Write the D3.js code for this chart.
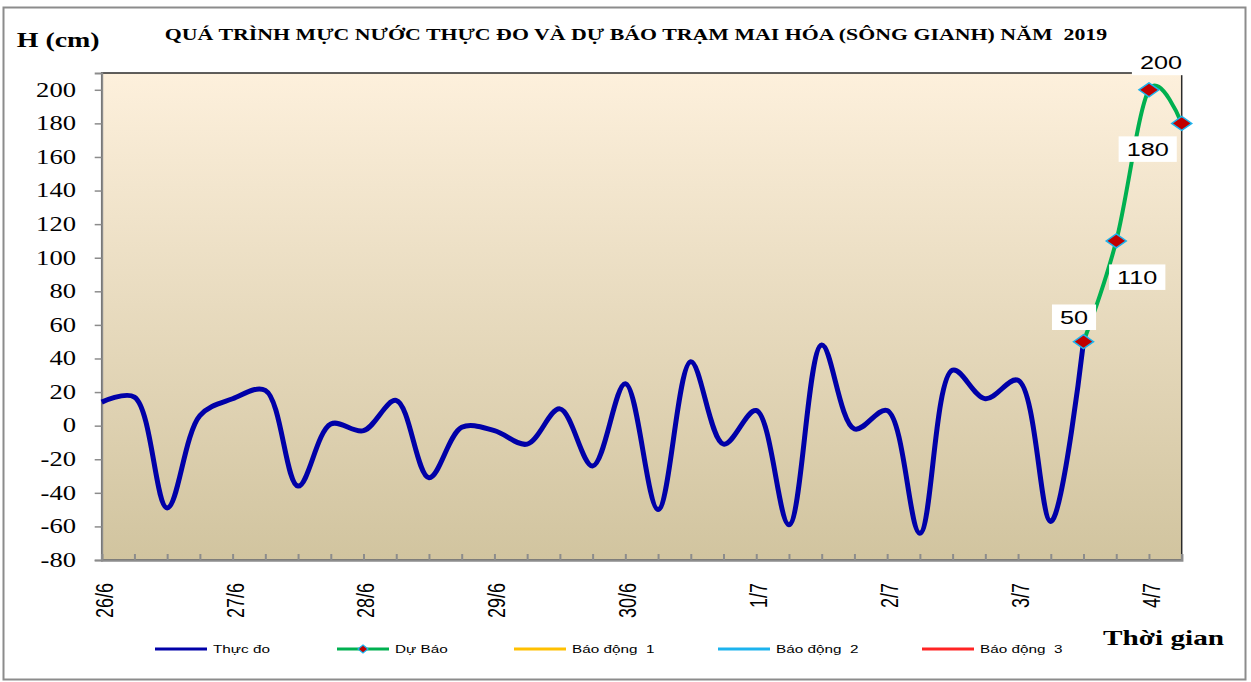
<!DOCTYPE html>
<html>
<head>
<meta charset="utf-8">
<script src="https://cdn.jsdelivr.net/npm/d3@7"></script>
<style>
  body { margin: 0; background: #fff; }
  text { white-space: pre; }
</style>
</head>
<body>
<div id="canvas"></div>
<script>
"use strict"

/* Data: one reading every 6 hours, 26/6 00h .. 4/7 06h */
let dayLabels = ["26/6", "27/6", "28/6", "29/6", "30/6", "1/7", "2/7", "3/7", "4/7"];
let stepsPerDay = 4;
let observed = [14, 17, -49, 6, 16, 21, -36, 1, -3, 15, -31, -1, -3, -11, 10, -24,
                25, -50, 38, -11, 9, -59, 48, -2, 9, -64, 33, 16, 27, -57, 50];
let forecast = [50, 110, 200, 180];
let forecastStart = 30;
let yTicks = [-80, -60, -40, -20, 0, 20, 40, 60, 80, 100, 120, 140, 160, 180, 200];
let legendNames = ["Thực đo", "Dự Báo", "Báo động  1", "Báo động  2", "Báo động  3"];
let legendColors = ["#0000A8", "#00B050", "#FFC000", "#1CB3EE", "#FF2424"];

/* Fonts (the picture is stretched sideways, so text is too) */
let serif = "'Liberation Serif', 'Times New Roman', serif";
let sans = "'Liberation Sans', Arial, sans-serif";
let SX = 1.33;

let drawing = d3.select("#canvas")
    .append("svg")
    .attr("width", 1251)
    .attr("height", 682);

/* Outer chart border */
drawing.append("rect")
    .attr("x", 3.5).attr("y", 7.5)
    .attr("width", 1242).attr("height", 672)
    .attr("fill", "#fff")
    .attr("stroke", "#8c8c8c")
    .attr("stroke-width", 2);

/* Scales */
let nPoints = forecastStart + forecast.length;
let x = d3.scaleLinear().domain([0, nPoints - 1]).range([101.7, 1181.7]);
let y = d3.scaleLinear().domain([-80, 210]).range([560, 73]);

/* Plot background gradient */
let defs = drawing.append("defs");
let grad = defs.append("linearGradient")
    .attr("id", "plotbg")
    .attr("x1", 0).attr("y1", 0).attr("x2", 0).attr("y2", 1);
grad.append("stop").attr("offset", "0%").attr("stop-color", "#FDF0DC");
grad.append("stop").attr("offset", "100%").attr("stop-color", "#D1C49F");

drawing.append("rect")
    .attr("x", x(0)).attr("y", y(210))
    .attr("width", x(nPoints - 1) - x(0))
    .attr("height", y(-80) - y(210))
    .attr("fill", "url(#plotbg)")
    .attr("stroke", "#2a2a2a")
    .attr("stroke-width", 1.5);

/* Y axis */
let yAxis = drawing.append("g")
    .attr("transform", "translate(" + x(0) + ",0)")
    .call(d3.axisLeft(y).tickValues(yTicks).tickSize(7).tickFormat(""));
yAxis.select(".domain").attr("stroke", "#8c8c8c").attr("stroke-width", 2);
yAxis.selectAll(".tick line").attr("stroke", "#8c8c8c").attr("stroke-width", 1.5);

yTicks.forEach(function (t) {
    drawing.append("g")
        .attr("transform", "translate(76," + y(t) + ") scale(" + SX + ",1)")
        .append("text")
        .attr("text-anchor", "end")
        .attr("dominant-baseline", "central")
        .attr("font-family", serif)
        .attr("font-size", 20)
        .attr("fill", "#000")
        .text(t);
});

/* X axis: ticks point inward */
let xAxis = drawing.append("g")
    .attr("transform", "translate(0," + y(-80) + ")")
    .call(d3.axisBottom(x).tickValues(d3.range(1, nPoints - 1)).tickSize(-6).tickFormat(""));
xAxis.select(".domain").attr("stroke", "#8c8c8c").attr("stroke-width", 2.5);
xAxis.selectAll(".tick line").attr("stroke", "#8c8c8c").attr("stroke-width", 2);

dayLabels.forEach(function (d, i) {
    drawing.append("g")
        .attr("transform", "translate(" + (x(i * stepsPerDay) + 2.5) + ",583) scale(" + SX + ",1) rotate(-90)")
        .append("text")
        .attr("text-anchor", "end")
        .attr("dominant-baseline", "central")
        .attr("font-family", sans)
        .attr("font-size", 18)
        .attr("fill", "#000")
        .text(d);
});

/* Lines (smoothed like Excel) */
function lineWith(curve) {
    return d3.line()
        .x(function (d) { return x(d.i); })
        .y(function (d) { return y(d.v); })
        .curve(curve);
}

let obsData = observed.map(function (v, i) { return { i: i, v: v }; });
let fcData = forecast.map(function (v, k) { return { i: forecastStart + k, v: v }; });

drawing.append("path")
    .datum(obsData)
    .attr("d", lineWith(d3.curveCatmullRom.alpha(0.5)))
    .attr("fill", "none")
    .attr("stroke", legendColors[0])
    .attr("stroke-width", 5)
    .attr("stroke-linejoin", "round");

drawing.append("path")
    .datum(fcData)
    .attr("d", lineWith(d3.curveCardinal))
    .attr("fill", "none")
    .attr("stroke", legendColors[1])
    .attr("stroke-width", 4)
    .attr("stroke-linejoin", "round");

/* Diamond markers */
function diamond(hw, hh) {
    return "M0," + (-hh) + "L" + hw + ",0L0," + hh + "L" + (-hw) + ",0Z";
}

drawing.selectAll(".marker")
    .data(fcData)
    .enter().append("path")
    .attr("class", "marker")
    .attr("transform", function (d) { return "translate(" + x(d.i) + "," + y(d.v) + ")"; })
    .attr("d", diamond(10, 7))
    .attr("fill", "#C00000")
    .attr("stroke", "#1CB3EE")
    .attr("stroke-width", 1.5);

/* Data labels with white boxes (moved by hand in the original) */
let labelShift = [[-9.5, -17.7], [21, 43], [12, -20.6], [-34, 32.5]];

fcData.forEach(function (d, k) {
    let lx = x(d.i) + labelShift[k][0];
    let ly = y(d.v) + labelShift[k][1];
    let g = drawing.append("g");
    let box = g.append("rect").attr("fill", "#fff");
    let t = g.append("g")
        .attr("transform", "translate(" + lx + "," + ly + ") scale(" + SX + ",1)")
        .append("text")
        .attr("text-anchor", "middle")
        .attr("font-family", sans)
        .attr("font-size", 19)
        .attr("fill", "#000")
        .text(d.v);
    let w = t.node().getComputedTextLength() * SX;
    box.attr("x", lx - w / 2 - 8)
        .attr("y", ly - 19.5)
        .attr("width", w + 16)
        .attr("height", 25.5);
});

/* Title and axis names */
let title = drawing.append("g")
    .attr("transform", "translate(636,40)")
    .append("text")
    .attr("text-anchor", "middle")
    .attr("font-family", serif)
    .attr("font-weight", "bold")
    .attr("font-size", 17)
    .attr("fill", "#000")
    .text("QUÁ TRÌNH MỰC NƯỚC THỰC ĐO VÀ DỰ BÁO TRẠM MAI HÓA (SÔNG GIANH) NĂM  2019");
let titleLen = title.node().getComputedTextLength();
d3.select(title.node().parentNode)
    .attr("transform", "translate(636,40) scale(" + (943 / titleLen) + ",1)");

drawing.append("g")
    .attr("transform", "translate(16.7,47.3) scale(" + SX + ",1)")
    .append("text")
    .attr("font-family", serif)
    .attr("font-weight", "bold")
    .attr("font-size", 21)
    .attr("fill", "#000")
    .text("H (cm)");

drawing.append("g")
    .attr("transform", "translate(1103,645) scale(" + SX + ",1)")
    .append("text")
    .attr("font-family", serif)
    .attr("font-weight", "bold")
    .attr("font-size", 22)
    .attr("fill", "#000")
    .text("Thời gian");

/* Legend */
let legendX = [155, 337, 514, 718, 922];
let legendY = 649;

legendNames.forEach(function (name, k) {
    let lg = drawing.append("g");
    lg.append("line")
        .attr("x1", legendX[k]).attr("x2", legendX[k] + 52)
        .attr("y1", legendY).attr("y2", legendY)
        .attr("stroke", legendColors[k])
        .attr("stroke-width", 3);
    if (k === 1) {
        lg.append("path")
            .attr("transform", "translate(" + (legendX[k] + 26) + "," + legendY + ")")
            .attr("d", diamond(5, 4))
            .attr("fill", "#C00000")
            .attr("stroke", "#1CB3EE")
            .attr("stroke-width", 1.2);
    }
    lg.append("g")
        .attr("transform", "translate(" + (legendX[k] + 58) + "," + legendY + ") scale(" + SX + ",1)")
        .append("text")
        .attr("dominant-baseline", "central")
        .attr("font-family", sans)
        .attr("font-size", 11.5)
        .attr("fill", "#000")
        .text(name);
});
</script>
</body>
</html>
